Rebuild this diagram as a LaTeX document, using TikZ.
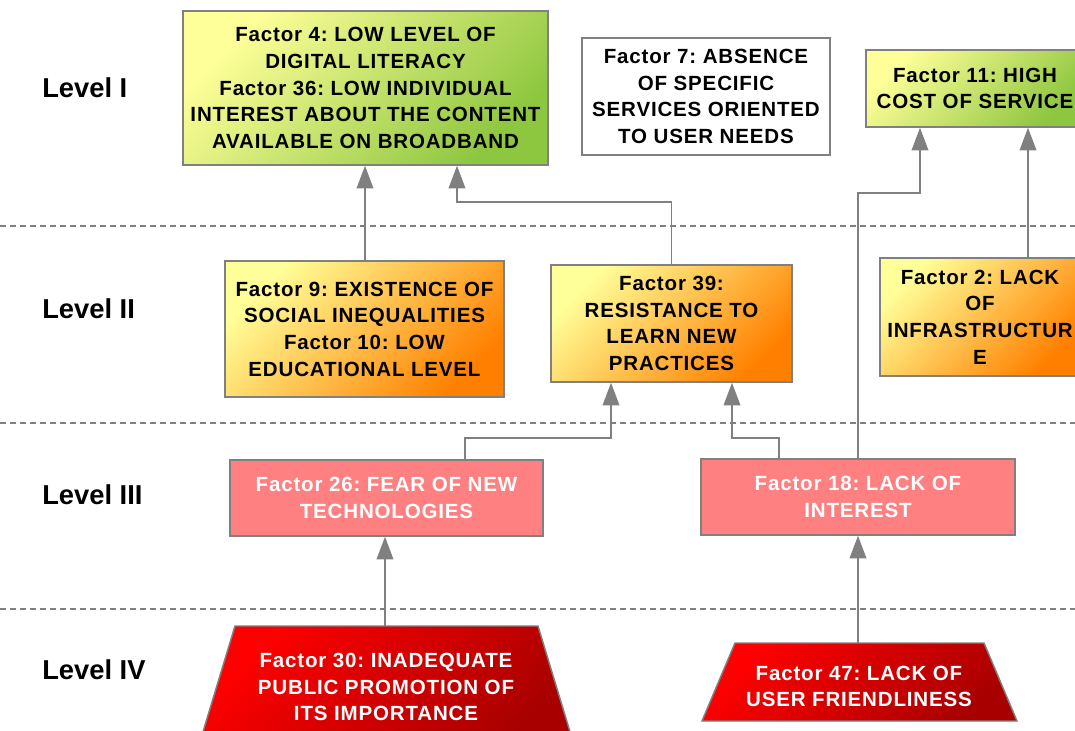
\documentclass[tikz,border=0pt]{standalone}
\usepackage{fontspec}
\setmainfont{Liberation Sans}
\newfontfamily\boxfont{Liberation Sans}[LetterSpace=4]
\usetikzlibrary{arrows.meta}
\frenchspacing
\definecolor{bord}{HTML}{808080}
\definecolor{lyellow}{HTML}{FFFF99}
\definecolor{dgreen}{HTML}{8DC63F}
\definecolor{dorange}{HTML}{FF8000}
\definecolor{pinkfill}{HTML}{FF8080}
\definecolor{lred}{HTML}{FF0000}
\definecolor{dred}{HTML}{A80000}
\tikzset{
  boxtext/.style={font=\boxfont\bfseries\frenchspacing\fontsize{15.4}{20}\selectfont, align=center, inner sep=0pt},
  factorbox/.style={boxtext, draw=bord, line width=1.1pt},
  greenbox/.style={factorbox, top color=lyellow, bottom color=dgreen, shading angle=45},
  orangebox/.style={factorbox, top color=lyellow, bottom color=dorange, shading angle=45},
  pinkbox/.style={factorbox, fill=pinkfill, text=white},
  whitebox/.style={factorbox, fill=white},
  redtrap/.style={draw=bord, line width=1.1pt, top color=lred, bottom color=dred, shading angle=45},
  levellabel/.style={font=\bfseries\fontsize{20.5}{24}\selectfont, anchor=west, inner sep=0pt},
  levelline/.style={draw=bord, line width=0.8pt, dash pattern=on 4.5pt off 3pt},
  conn/.style={draw=bord, line width=1.2pt, -{Triangle[length=17pt,width=12.5pt]}}
}
\begin{document}
\begin{tikzpicture}[x=0.75pt,y=-0.75pt]
\clip (0,0) rectangle (1075,731);
\fill[white] (0,0) rectangle (1075,731);

% level separators
\draw[levelline] (0,226) -- (1075,226);
\draw[levelline] (0,423) -- (1075,423);
\draw[levelline] (0,609) -- (1075,609);

% level labels
\node[levellabel] (l1) at (42,88) {Level I};
\node[levellabel] (l2) at (42,309) {Level II};
\node[levellabel] (l3) at (42,495) {Level III};
\node[levellabel] (l4) at (42,670) {Level IV};

% Level I
\node[greenbox, minimum width=273.75pt, minimum height=115.5pt] (b1) at (365.5,88)
  {Factor 4: LOW LEVEL OF\\DIGITAL LITERACY\\Factor 36: LOW INDIVIDUAL\\INTEREST ABOUT THE CONTENT\\AVAILABLE ON BROADBAND};
\node[whitebox, minimum width=186pt, minimum height=87.75pt] (b7) at (706,96.5)
  {Factor 7: ABSENCE\\OF SPECIFIC\\SERVICES ORIENTED\\TO USER NEEDS};
\node[greenbox, minimum width=163.5pt, minimum height=57.75pt] (b11) at (975,88.5)
  {Factor 11: HIGH\\COST OF SERVICE};

% Level II
\node[orangebox, minimum width=209.25pt, minimum height=102pt] (b9) at (364.5,329)
  {Factor 9: EXISTENCE OF\\SOCIAL INEQUALITIES\\Factor 10: LOW\\EDUCATIONAL LEVEL};
\node[orangebox, minimum width=180.75pt, minimum height=87.75pt] (b39) at (671.5,323.5)
  {Factor 39:\\RESISTANCE TO\\LEARN NEW\\PRACTICES};
\node[orangebox, minimum width=150pt, minimum height=88.5pt] (b2) at (980,317)
  {Factor 2: LACK\\OF\\INFRASTRUCTUR\\E};

% Level III
\node[pinkbox, minimum width=234.75pt, minimum height=57pt] (b26) at (386.5,498)
  {Factor 26: FEAR OF NEW\\TECHNOLOGIES};
\node[pinkbox, minimum width=235.5pt, minimum height=57pt] (b18) at (858,497)
  {Factor 18: LACK OF\\INTEREST};

% Level IV
\path[redtrap] (235,626) -- (538,626) -- (574,745) -- (199,745) -- cycle;
\coordinate (t30top) at (385,626);
\node[boxtext, text=white] (t30) at (386,687)
  {Factor 30: INADEQUATE\\PUBLIC PROMOTION OF\\ITS IMPORTANCE};
\path[redtrap] (735,643) -- (984,643) -- (1017,721) -- (702,721) -- cycle;
\coordinate (t47top) at (858,643);
\node[boxtext, text=white] (t47) at (859,686.5)
  {Factor 47: LACK OF\\USER FRIENDLINESS};

% connectors
\draw[conn] (365,0 |- b9.north) -- (365,0 |- b1.south);
\draw[conn] (b39.north) |- (457,202) -- (457,0 |- b1.south);
\draw[conn] (465,0 |- b26.north) |- (611,438) -- (611,0 |- b39.south);
\draw[conn] (779,0 |- b18.north) |- (732,438) -- (732,0 |- b39.south);
\draw[conn] (b18.north) |- (920,193) -- (920,0 |- b11.south);
\draw[conn] (1028,0 |- b2.north) -- (1028,0 |- b11.south);
\draw[conn] (t30top) -- (t30top |- b26.south);
\draw[conn] (t47top) -- (t47top |- b18.south);
\end{tikzpicture}
\end{document}
